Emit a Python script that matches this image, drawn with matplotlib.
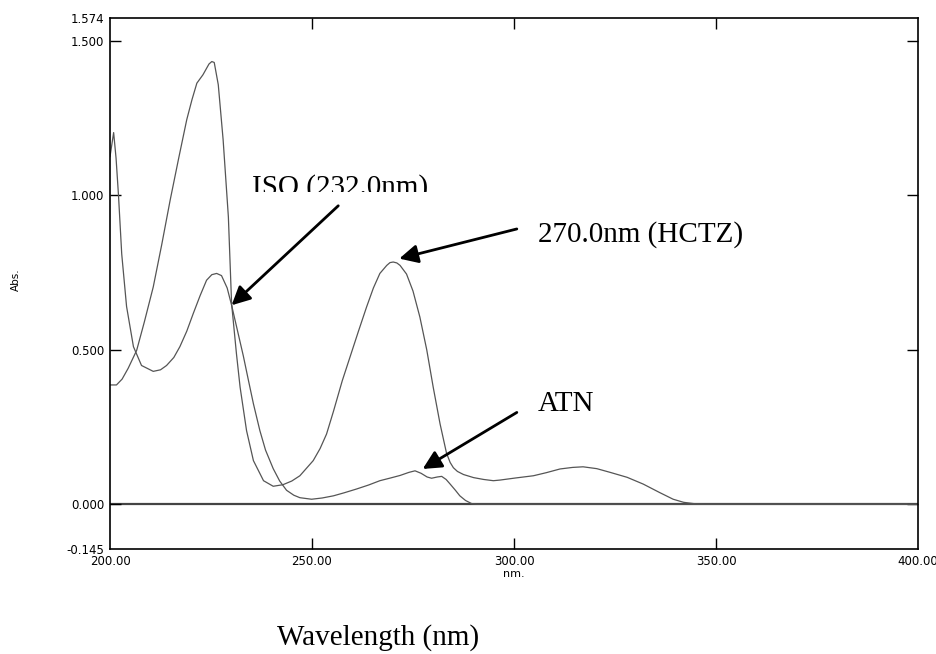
import matplotlib
matplotlib.use('Agg')
import matplotlib.pyplot as plt
from matplotlib.patches import Rectangle

# HCTZ spectrum (flat start, big peak ~225 nm, 270 nm band, shoulder ~317 nm)
hctz_wl = [200, 201.6, 203, 204.5, 206.6, 208.5, 210.7, 212.8, 214.9, 217.0,
           219.0, 220.3, 221.5, 223.0, 224.5, 225.2, 225.8, 226.8, 228.0, 229.3,
           230.1, 231.3, 232.2, 233.8, 235.5, 238.0, 240.4, 242.8, 245.0, 247.0,
           250.3, 252.0, 253.6, 255.3, 257.5, 259.4, 261.5, 263.5, 265.2, 266.8,
           268.5, 269.3, 270.1, 271.0, 271.8, 273.4, 275.0, 276.7, 278.4, 280.0,
           281.7, 283.3, 284.2, 285.0, 286.0, 287.5, 290.0, 292.5, 294.9, 296.5,
           300.5, 304.8, 308.0, 311.4, 314.5, 317.1, 320.5, 323.8, 328.0, 332.0,
           336.0, 339.4, 342.0, 344.4, 347.0, 400]
hctz_abs = [0.386, 0.386, 0.405, 0.44, 0.498, 0.59, 0.703, 0.84, 0.985, 1.12,
            1.245, 1.31, 1.363, 1.39, 1.425, 1.433, 1.43, 1.358, 1.18, 0.93,
            0.649, 0.487, 0.379, 0.238, 0.141, 0.076, 0.058, 0.063, 0.075, 0.092,
            0.141, 0.18, 0.227, 0.30, 0.40, 0.476, 0.56, 0.638, 0.70, 0.747,
            0.773, 0.782, 0.784, 0.781, 0.773, 0.745, 0.69, 0.606, 0.50, 0.379,
            0.26, 0.165, 0.135, 0.118, 0.106, 0.096, 0.086, 0.08, 0.076, 0.078,
            0.085, 0.092, 0.102, 0.114, 0.119, 0.121, 0.115, 0.103, 0.087, 0.065,
            0.038, 0.016, 0.006, 0.002, 0.0, 0.0]

# ATN spectrum (spike at 201 nm, peak ~226 nm, small bands 275/282 nm)
atn_wl = [200, 200.9, 201.5, 202.1, 202.9, 204.1, 205.8, 207.8, 210.7, 212.5,
          214.0, 215.8, 217.3, 219.0, 220.6, 222.3, 223.9, 225.2, 226.4, 227.6,
          229.0, 230.1, 231.5, 233.0, 234.2, 235.5, 237.1, 238.5, 240.4, 242.0,
          243.7, 245.5, 247.0, 249.9, 252.5, 255.3, 258.0, 261.0, 264.0, 266.8,
          269.5, 271.8, 274.0, 275.5, 277.0, 278.5, 279.6, 281.0, 282.1, 283.2,
          284.2, 285.5, 286.6, 288.0, 289.5, 291.0, 400]
atn_abs = [1.125, 1.203, 1.12, 1.0, 0.81, 0.64, 0.51, 0.449, 0.43, 0.435,
           0.449, 0.475, 0.51, 0.56, 0.617, 0.675, 0.725, 0.743, 0.747, 0.74,
           0.70, 0.644, 0.565, 0.48, 0.405, 0.325, 0.238, 0.175, 0.115, 0.075,
           0.045, 0.029, 0.021, 0.016, 0.02, 0.027, 0.037, 0.049, 0.062, 0.076,
           0.085, 0.093, 0.103, 0.108, 0.1, 0.088, 0.084, 0.088, 0.090, 0.08,
           0.065, 0.045, 0.027, 0.012, 0.002, 0.0, 0.0]

x_ticks = [200, 250, 300, 350, 400]
x_tick_labels = ['200.00', '250.00', '300.00', '350.00', '400.00']
y_ticks = [-0.145, 0.0, 0.5, 1.0, 1.5, 1.574]
y_tick_labels = ['-0.145', '0.000', '0.500', '1.000', '1.500', '1.574']

fig = plt.figure(figsize=(9.37, 6.54), dpi=100)
ax = fig.add_axes([0.1174, 0.1606, 0.8623, 0.8119])

# baseline and spectra
ax.axhline(0, color='#444444', lw=1.6, zorder=1)
ax.plot(hctz_wl, hctz_abs, color='#555555', lw=0.9, zorder=2)
ax.plot(atn_wl, atn_abs, color='#555555', lw=0.9, zorder=2)

ax.set_xlim(200, 400)
ax.set_ylim(-0.145, 1.574)
ax.set_xticks(x_ticks)
ax.set_xticklabels(x_tick_labels, family='DejaVu Sans', fontsize=8.5)
ax.set_yticks(y_ticks)
ax.set_yticklabels(y_tick_labels, family='DejaVu Sans', fontsize=8.5)
ax.tick_params(direction='in', length=8, width=1, top=True, right=True, pad=4)
for t in ax.yaxis.get_major_ticks():
    if t.get_loc() in (-0.145, 1.574):
        t.tick1line.set_visible(False)
        t.tick2line.set_visible(False)
for t in ax.xaxis.get_major_ticks():
    if t.get_loc() in (200, 400):
        t.tick1line.set_visible(False)
        t.tick2line.set_visible(False)
for s in ax.spines.values():
    s.set_linewidth(1.2)

ax.set_xlabel('nm.', family='DejaVu Sans', fontsize=8, labelpad=1)
fig.text(0.017, 0.572, 'Abs.', rotation=90, ha='center', va='center',
         family='DejaVu Sans', fontsize=7.5)

# annotations
serif = dict(family='Liberation Serif', fontsize=21)
arrow = dict(arrowstyle='-|>', color='black', lw=2, mutation_scale=28,
             shrinkA=0, shrinkB=0)
ax.annotate('', xy=(230.1, 0.644), xytext=(256.5, 0.966), arrowprops=arrow,
            zorder=5)
ax.annotate('', xy=(271.6, 0.795), xytext=(300.7, 0.891), arrowprops=arrow,
            zorder=5)
ax.annotate('', xy=(277.4, 0.114), xytext=(300.7, 0.297), arrowprops=arrow,
            zorder=5)
ax.text(235.1, 1.001, 'ISO (232.0nm)', va='baseline', ha='left', zorder=3, **serif)
ax.text(305.9, 0.849, '270.0nm (HCTZ)', va='baseline', ha='left', **serif)
ax.text(305.9, 0.303, 'ATN', va='baseline', ha='left', **serif)
# white strip that trims the bottom of the ISO label, as in the original
ax.add_patch(Rectangle((234.5, 0.971), 48, 0.041, facecolor='white',
                       edgecolor='none', zorder=4))

fig.text(0.4034, 0.014, 'Wavelength (nm)', ha='center', va='baseline', **serif)

fig.savefig('out.png', dpi=100)
